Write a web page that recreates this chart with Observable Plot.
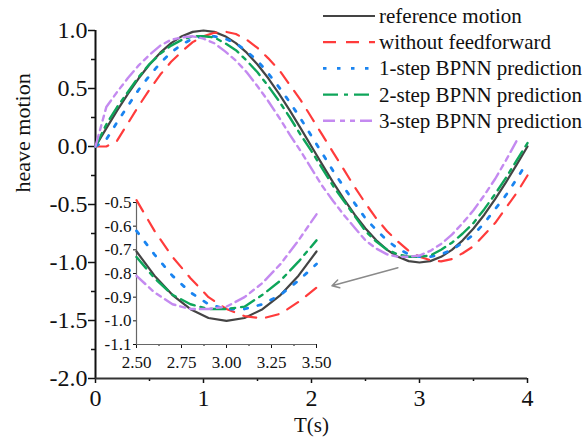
<!DOCTYPE html>
<html>
<head>
<meta charset="utf-8">
<script src="https://cdn.jsdelivr.net/npm/d3@7"></script>
<script src="https://cdn.jsdelivr.net/npm/@observablehq/plot@0.6"></script>
<style>
  html, body { margin: 0; padding: 0; background: #fff; }
  #wrap { position: relative; width: 586px; height: 445px; overflow: hidden; }
  #wrap > svg, #wrap > div { position: absolute; }
  #wrap svg.mainplot g[aria-label$="tick label"] text { font-size: 24px !important; }
  #wrap svg.insetplot g[aria-label$="tick label"] text { font-size: 17px !important; }
</style>
</head>
<body>
<div id="wrap"></div>
<script>
// ---- data ----
const T = [0,0.1,0.2,0.3,0.4,0.5,0.6,0.7,0.8,0.9,1.0,1.1,1.2,1.3,1.4,1.5,1.6,1.7,1.8,1.9,2.0,
           2.1,2.2,2.3,2.4,2.5,2.6,2.7,2.8,2.9,3.0,3.1,3.2,3.3,3.4,3.5,3.6,3.7,3.8,3.9,4.0];
const referenceMotion = [0,0.156,0.309,0.454,0.588,0.707,0.809,0.891,0.951,0.988,1.0,0.988,0.951,0.891,0.809,0.707,0.588,0.454,0.309,0.156,0,
  -0.156,-0.309,-0.454,-0.588,-0.707,-0.809,-0.891,-0.951,-0.988,-1.0,-0.988,-0.951,-0.891,-0.809,-0.707,-0.588,-0.454,-0.309,-0.156,0];
const withoutFeedforward = [0,0,0.05,0.20,0.35,0.49,0.62,0.73,0.82,0.90,0.95,0.98,0.99,0.97,0.92,0.85,0.76,0.66,0.53,0.40,0.25,
  0.10,-0.05,-0.20,-0.35,-0.49,-0.62,-0.73,-0.82,-0.90,-0.95,-0.98,-0.99,-0.97,-0.92,-0.86,-0.76,-0.66,-0.53,-0.40,-0.25];
const bpnn1 = [0,0.06,0.21,0.35,0.49,0.61,0.72,0.81,0.88,0.93,0.95,0.95,0.93,0.89,0.82,0.74,0.63,0.51,0.38,0.24,0.09,
  -0.06,-0.21,-0.35,-0.49,-0.62,-0.72,-0.81,-0.88,-0.93,-0.95,-0.95,-0.93,-0.89,-0.83,-0.76,-0.66,-0.54,-0.42,-0.28,-0.13];
const bpnn2 = [0,0.19,0.34,0.47,0.60,0.71,0.80,0.87,0.92,0.95,0.95,0.94,0.89,0.83,0.74,0.64,0.52,0.39,0.25,0.10,-0.04,
  -0.19,-0.34,-0.47,-0.60,-0.73,-0.82,-0.89,-0.93,-0.95,-0.95,-0.94,-0.89,-0.83,-0.75,-0.66,-0.54,-0.41,-0.27,-0.12,0.03];
const bpnn3 = [0,0.34,0.47,0.59,0.70,0.79,0.87,0.92,0.94,0.95,0.93,0.89,0.82,0.74,0.64,0.52,0.39,0.25,0.10,-0.04,-0.19,
  -0.34,-0.47,-0.59,-0.70,-0.81,-0.88,-0.93,-0.95,-0.95,-0.94,-0.90,-0.84,-0.76,-0.66,-0.55,-0.42,-0.28,-0.12,0.05];

const seriesNames = ["reference motion","without feedforward","1-step BPNN prediction","2-step BPNN prediction","3-step BPNN prediction"];
const seriesValues = [referenceMotion, withoutFeedforward, bpnn1, bpnn2, bpnn3];

const xTicks = [0,1,2,3,4];
const xMinorTicks = [0.5,1.5,2.5,3.5];
const yTicks = [-2,-1.5,-1,-0.5,0,0.5,1];
const yMinorTicks = [-1.75,-1.25,-0.75,-0.25,0.25,0.75];
const insetXTicks = [2.5,2.75,3.0,3.25,3.5];
const insetXMinorTicks = [2.625,2.875,3.125,3.375];
const insetYTicks = [-1.1,-1.0,-0.9,-0.8,-0.7,-0.6,-0.5];
const xLabel = "T(s)";
const yLabel = "heave motion";
const arrowData = [{x1: 2.80, y1: -1.045, x2: 2.19, y2: -1.20}];

// ---- styles ----
const styles = [
  {stroke: "#444444", width: 2.2, dash: null},
  {stroke: "#ff3b3b", width: 2.2, dash: "13 10"},
  {stroke: "#1a84f0", width: 2.8, dash: "3.5 10.5"},
  {stroke: "#0ea55a", width: 2.4, dash: "15 6 4 6"},
  {stroke: "#c48af0", width: 2.4, dash: "12 5 5 5 5 5"}
];
const FONT = "'Liberation Serif', 'Times New Roman', serif";

const rowsBySeries = seriesValues.map((vals, i) =>
  vals.map((v, j) => ({t: T[j], v, s: seriesNames[i]})));

function lineMarks(filter) {
  return rowsBySeries.map((rows, i) => Plot.line(filter ? rows.filter(filter) : rows, {
    x: "t", y: "v",
    stroke: styles[i].stroke, strokeWidth: styles[i].width,
    strokeDasharray: styles[i].dash, strokeLinejoin: "round"
  }));
}

const wrap = document.getElementById("wrap");

// ---- main plot ----
const main = Plot.plot({
  width: 586, height: 445,
  marginLeft: 95, marginRight: 59, marginTop: 30, marginBottom: 67,
  x: {domain: [0, 4], label: null},
  y: {domain: [-2, 1], label: null},
  style: {fontFamily: FONT, fontSize: "21px", color: "#111", background: "white", overflow: "visible"},
  marks: [
    Plot.axisX({ticks: xTicks, tickSize: 5, tickPadding: 5, tickFormat: d => String(d), label: null, strokeWidth: 1.5}),
    Plot.axisX({ticks: xMinorTicks, tickSize: 3, tickFormat: () => "", label: null, strokeWidth: 1.5}),
    Plot.axisY({ticks: yTicks, tickSize: 7, tickPadding: 1, tickFormat: d => d.toFixed(1), label: null, strokeWidth: 1.5}),
    Plot.axisY({ticks: yMinorTicks, tickSize: 4, tickFormat: () => "", label: null, strokeWidth: 1.5}),
    Plot.ruleX([0], {y1: -2, y2: 1, stroke: "#111", strokeWidth: 2}),
    Plot.ruleY([-2], {x1: 0, x2: 4, stroke: "#333", strokeWidth: 2}),
    ...lineMarks(null),
    Plot.arrow(arrowData, {x1: "x1", y1: "y1", x2: "x2", y2: "y2", stroke: "#8a8a8a", strokeWidth: 1.5, headLength: 8}),
    Plot.text([xLabel], {frameAnchor: "bottom", dy: 53, fontSize: 21, fill: "#111"}),
    Plot.text([yLabel], {frameAnchor: "left", dx: -73, dy: -12, rotate: -90, fontSize: 22, fill: "#111"})
  ]
});
main.classList.add("mainplot");
main.style.left = "0px"; main.style.top = "0px";
wrap.appendChild(main);

// ---- inset plot ----
const inset = Plot.plot({
  width: 240, height: 190,
  marginLeft: 50, marginRight: 10, marginTop: 12, marginBottom: 36,
  x: {domain: [2.5, 3.5], label: null},
  y: {domain: [-1.1, -0.5], label: null},
  style: {fontFamily: FONT, fontSize: "17px", color: "#111", background: "transparent", overflow: "visible"},
  marks: [
    Plot.axisX({ticks: insetXTicks, tickSize: 4, tickPadding: 7, tickFormat: d => d.toFixed(2), label: null}),
    Plot.axisX({ticks: insetXMinorTicks, tickSize: 2, tickFormat: () => "", label: null}),
    Plot.axisY({ticks: insetYTicks, tickSize: 3, tickPadding: 2, tickFormat: d => d.toFixed(1), label: null}),
    Plot.ruleX([2.5], {y1: -1.1, y2: -0.5, stroke: "#666", strokeWidth: 1.2}),
    Plot.ruleY([-1.1], {x1: 2.5, x2: 3.5, stroke: "#666", strokeWidth: 1.2}),
    ...lineMarks(d => d.t >= 2.5 - 1e-9 && d.t <= 3.5 + 1e-9)
  ]
});
inset.classList.add("insetplot");
inset.style.left = "86px"; inset.style.top = "190px";
wrap.appendChild(inset);

// ---- legend ----
const legend = d3.create("svg").attr("width", 270).attr("height", 135)
  .style("left", "318px").style("top", "2px").style("overflow", "visible");
seriesNames.forEach((name, i) => {
  const y = 14 + i * 26.2;
  legend.append("line").attr("x1", 5).attr("x2", 57).attr("y1", y).attr("y2", y)
    .attr("stroke", styles[i].stroke).attr("stroke-width", styles[i].width)
    .attr("stroke-dasharray", styles[i].dash);
  legend.append("text").attr("x", 61).attr("y", y + 7)
    .attr("font-family", FONT).attr("font-size", 21).attr("fill", "#111").text(name);
});
wrap.appendChild(legend.node());
</script>
</body>
</html>
